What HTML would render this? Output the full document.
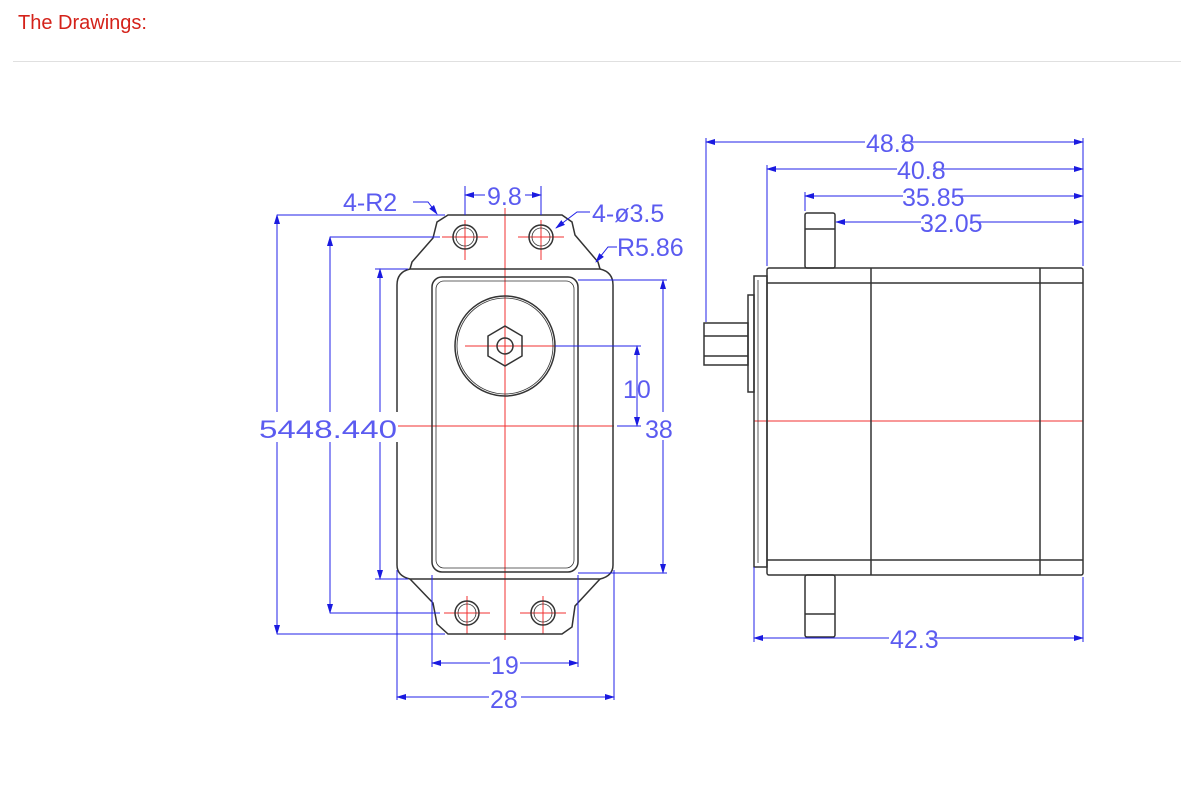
<!DOCTYPE html>
<html><head><meta charset="utf-8"><style>
html,body{margin:0;padding:0;background:#fff;width:1200px;height:807px;overflow:hidden}
.h{position:absolute;left:18px;top:12px;font-family:"Liberation Sans",sans-serif;font-size:20px;color:#d4221a}
.hr{position:absolute;left:13px;top:61px;width:1168px;height:1px;background:#e0e0e0}
svg{position:absolute;left:0;top:0}
text{font-family:"Liberation Sans",sans-serif;fill:#5b5bf0;font-size:25px}
</style></head><body>
<div class="h">The Drawings:</div><div class="hr"></div>
<svg width="1200" height="807" viewBox="0 0 1200 807">
<defs>
<marker id="a" markerWidth="10" markerHeight="6" refX="9" refY="3" orient="auto-start-reverse" markerUnits="userSpaceOnUse"><path d="M0,0L10,3L0,6z" fill="#1a1ae0"/></marker>
</defs>
<!-- red center lines left -->
<g stroke="#f03030" stroke-width="1">
<line x1="505" y1="188" x2="505" y2="640"/>
<line x1="397" y1="426" x2="614" y2="426"/>
<line x1="442" y1="237" x2="488" y2="237"/><line x1="465" y1="220" x2="465" y2="260"/>
<line x1="518" y1="237" x2="564" y2="237"/><line x1="541" y1="220" x2="541" y2="260"/>
<line x1="444" y1="613" x2="490" y2="613"/><line x1="467" y1="596" x2="467" y2="634"/>
<line x1="520" y1="613" x2="566" y2="613"/><line x1="543" y1="596" x2="543" y2="634"/>
<line x1="465" y1="346" x2="555" y2="346"/>
<line x1="754" y1="421" x2="1083" y2="421"/>
</g>
<!-- left part outline -->
<g fill="none" stroke="#333" stroke-width="1.5">
<path d="M448,215 L562,215 L572,222 L575,235 L598,262 L600,269 L410,269 L412,262 L433,238 L437,222 Z"/>
<path d="M410,269 Q397,272 397,285 L397,565 Q397,576 410,579 L600,579 Q613,576 613,565 L613,285 Q613,272 600,269"/>
<path d="M410,579 L433,603 L437,624 L448,634 L562,634 L572,627 L575,606 L600,579"/>
<rect x="432" y="277" width="146" height="295" rx="10"/>
<rect x="436" y="281" width="138" height="287" rx="8" stroke-width="0.8"/>
<circle cx="465" cy="237" r="12"/><circle cx="465" cy="237" r="9" stroke-width="0.8"/>
<circle cx="541" cy="237" r="12"/><circle cx="541" cy="237" r="9" stroke-width="0.8"/>
<circle cx="467" cy="613" r="12"/><circle cx="467" cy="613" r="9" stroke-width="0.8"/>
<circle cx="543" cy="613" r="12"/><circle cx="543" cy="613" r="9" stroke-width="0.8"/>
<circle cx="505" cy="346" r="50"/><circle cx="505" cy="346" r="48" stroke-width="0.8"/>
<path d="M505,326 L522,336 L522,356 L505,366 L488,356 L488,336 Z"/>
<circle cx="505" cy="346" r="8"/>
</g>
<!-- left dims -->
<g stroke="#2020e8" stroke-width="1" fill="none">
<line x1="277" y1="215" x2="445" y2="215"/><line x1="277" y1="215" x2="277" y2="634" marker-start="url(#a)" marker-end="url(#a)"/><line x1="277" y1="634" x2="445" y2="634"/>
<line x1="330" y1="237" x2="440" y2="237"/><line x1="330" y1="237" x2="330" y2="613" marker-start="url(#a)" marker-end="url(#a)"/><line x1="330" y1="613" x2="440" y2="613"/>
<line x1="375" y1="269" x2="408" y2="269"/><line x1="380" y1="269" x2="380" y2="579" marker-start="url(#a)" marker-end="url(#a)"/><line x1="375" y1="579" x2="408" y2="579"/>
<line x1="578" y1="280" x2="667" y2="280"/><line x1="663" y1="280" x2="663" y2="573" marker-start="url(#a)" marker-end="url(#a)"/><line x1="578" y1="573" x2="667" y2="573"/>
<line x1="555" y1="346" x2="641" y2="346"/><line x1="637" y1="346" x2="637" y2="426" marker-start="url(#a)" marker-end="url(#a)"/><line x1="617" y1="426" x2="641" y2="426"/>
<line x1="465" y1="186" x2="465" y2="215"/><line x1="541" y1="186" x2="541" y2="215"/>
<line x1="465" y1="195" x2="485" y2="195" marker-start="url(#a)"/><line x1="525" y1="195" x2="541" y2="195" marker-end="url(#a)"/>
<line x1="432" y1="575" x2="432" y2="667"/><line x1="578" y1="575" x2="578" y2="667"/>
<line x1="432" y1="663" x2="578" y2="663" marker-start="url(#a)" marker-end="url(#a)"/>
<line x1="397" y1="570" x2="397" y2="700"/><line x1="614" y1="570" x2="614" y2="700"/>
<line x1="397" y1="697" x2="614" y2="697" marker-start="url(#a)" marker-end="url(#a)"/>
<path d="M413,202 L428,202 L437,214" marker-end="url(#a)"/>
<path d="M590,212 L577,212 L556,228" marker-end="url(#a)"/>
<path d="M617,247 L608,247 L596,262" marker-end="url(#a)"/>
</g>
<g>
<rect x="485" y="184" width="40" height="24" fill="#fff"/>
<text x="487" y="205">9.8</text>
<text x="343" y="211">4-R2</text>
<text x="592" y="222">4-ø3.5</text>
<text x="617" y="256">R5.86</text>
<rect x="258" y="412" width="140" height="30" fill="#fff"/>
<text x="259" y="438" textLength="138" lengthAdjust="spacingAndGlyphs">5448.440</text>
<text x="623" y="398" font-size="24">10</text>
<rect x="643" y="412" width="40" height="28" fill="#fff"/>
<text x="645" y="438">38</text>
<rect x="490" y="652" width="30" height="24" fill="#fff"/>
<text x="491" y="674">19</text>
<rect x="489" y="686" width="32" height="24" fill="#fff"/>
<text x="490" y="708">28</text>
</g>
<!-- right view -->
<g fill="none" stroke="#333" stroke-width="1.5">
<rect x="767" y="268" width="316" height="307" rx="2"/>
<line x1="767" y1="283" x2="1083" y2="283"/><line x1="767" y1="560" x2="1083" y2="560"/>
<line x1="871" y1="268" x2="871" y2="575"/><line x1="1040" y1="268" x2="1040" y2="575"/>
<rect x="754" y="276" width="13" height="291"/>
<line x1="758" y1="280" x2="758" y2="563" stroke-width="0.8"/>
<rect x="748" y="295" width="6" height="97"/>
<rect x="704" y="323" width="44" height="42"/>
<line x1="704" y1="336" x2="748" y2="336"/><line x1="704" y1="356" x2="748" y2="356"/>
<rect x="805" y="213" width="30" height="55" rx="2"/><line x1="805" y1="229" x2="835" y2="229"/>
<rect x="805" y="575" width="30" height="62" rx="2"/><line x1="805" y1="614" x2="835" y2="614"/>
</g>
<g stroke="#2020e8" stroke-width="1" fill="none">
<line x1="706" y1="138" x2="706" y2="322"/>
<line x1="767" y1="165" x2="767" y2="266"/>
<line x1="805" y1="192" x2="805" y2="211"/>
<line x1="1083" y1="138" x2="1083" y2="266"/>
<line x1="706" y1="142" x2="1083" y2="142" marker-start="url(#a)" marker-end="url(#a)"/>
<line x1="767" y1="169" x2="1083" y2="169" marker-start="url(#a)" marker-end="url(#a)"/>
<line x1="805" y1="196" x2="1083" y2="196" marker-start="url(#a)" marker-end="url(#a)"/>
<line x1="836" y1="222" x2="1083" y2="222" marker-start="url(#a)" marker-end="url(#a)"/>
<line x1="754" y1="567" x2="754" y2="642"/><line x1="1083" y1="577" x2="1083" y2="642"/>
<line x1="754" y1="638" x2="1083" y2="638" marker-start="url(#a)" marker-end="url(#a)"/>
</g>
<g>
<rect x="865" y="130" width="36" height="24" fill="#fff"/><text x="866" y="152">48.8</text>
<rect x="897" y="157" width="36" height="24" fill="#fff"/><text x="897" y="179">40.8</text>
<rect x="903" y="184" width="50" height="24" fill="#fff"/><text x="902" y="206">35.85</text>
<rect x="921" y="210" width="50" height="24" fill="#fff"/><text x="920" y="232">32.05</text>
<rect x="889" y="626" width="40" height="24" fill="#fff"/><text x="890" y="648">42.3</text>
</g>
</svg>
</body></html>
